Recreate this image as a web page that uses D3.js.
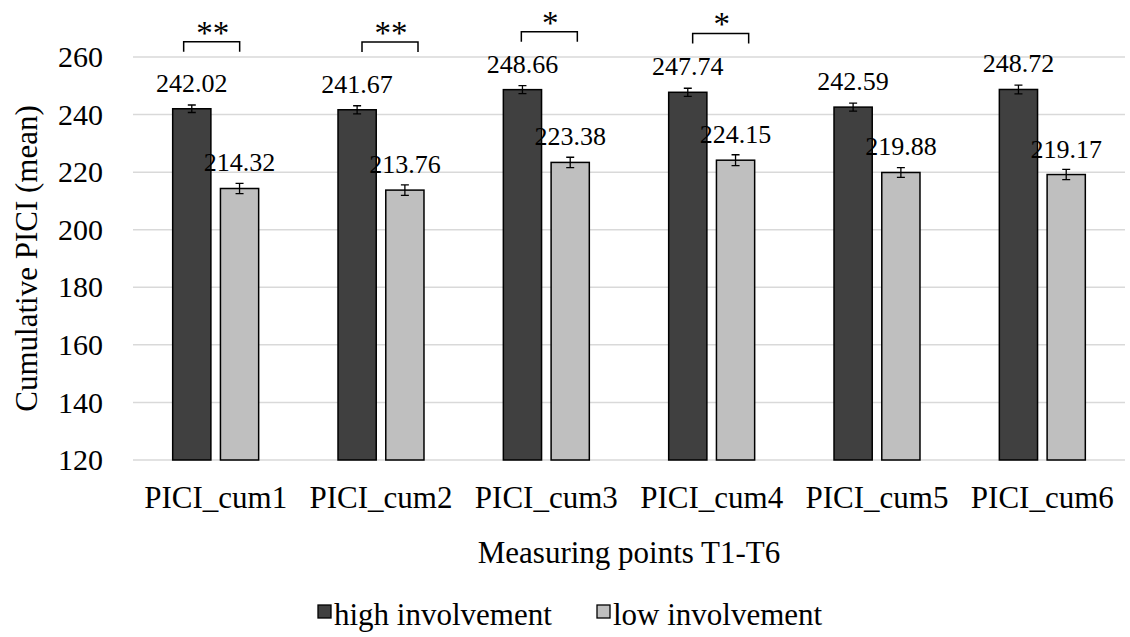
<!DOCTYPE html>
<html lang="en">
<head>
<meta charset="utf-8">
<title>Cumulative PICI</title>
<script src="https://cdn.jsdelivr.net/npm/d3@7"></script>
<style>
  body { margin: 0; background: #fff; }
  svg text { font-family: "Liberation Serif", "Times New Roman", serif; fill: #000; }
</style>
</head>
<body>
<svg width="1130" height="637"></svg>
<script>
// data
var categories = ["PICI_cum1", "PICI_cum2", "PICI_cum3", "PICI_cum4", "PICI_cum5", "PICI_cum6"];
var seriesNames = ["high involvement", "low involvement"];
var highValues = [242.02, 241.67, 248.66, 247.74, 242.59, 248.72];
var lowValues = [214.32, 213.76, 223.38, 224.15, 219.88, 219.17];
var highErr = [1.3, 1.4, 1.4, 1.4, 1.4, 1.5];
var lowErr = [1.8, 1.8, 1.8, 1.9, 1.7, 1.8];
var yTicks = [120, 140, 160, 180, 200, 220, 240, 260];

// significance brackets (level in data units, small hand shift in px)
var sigCats = ["PICI_cum1", "PICI_cum2", "PICI_cum3", "PICI_cum4"];
var sigLabels = ["**", "**", "*", "*"];
var sigLevels = [265.3, 265.2, 268.8, 268.2];
var sigShift = [-4, 9, 3, 9];

var colors = ["#404040", "#bfbfbf"];

var svg = d3.select("svg");
var m = { left: 133, right: 1125, top: 57, bottom: 460 };

var x0 = d3.scaleBand()
    .domain(categories)
    .range([m.left, m.right])
    .paddingInner(0.48)
    .paddingOuter(0.24);

var x1 = d3.scaleBand()
    .domain(seriesNames)
    .range([0, x0.bandwidth()])
    .paddingInner(0.2);

var y = d3.scaleLinear()
    .domain([120, 260])
    .range([m.bottom, m.top]);

// gridlines
svg.append("g")
    .selectAll("line")
    .data(yTicks)
    .enter()
    .append("line")
        .attr("x1", m.left)
        .attr("x2", m.right)
        .attr("y1", function (d) { return y(d) })
        .attr("y2", function (d) { return y(d) })
        .attr("stroke", "#d9d9d9")
        .attr("stroke-width", 1.5);

// y axis labels
var axisY = d3.axisLeft(y).tickValues(yTicks).tickSize(0).tickPadding(30);
var gy = svg.append("g")
    .attr("transform", "translate(" + m.left + ",0)")
    .call(axisY);
gy.select(".domain").remove();
gy.selectAll("text")
    .style("font-family", "'Liberation Serif', 'Times New Roman', serif")
    .attr("font-size", 30)
    .attr("fill", "#000");

// x axis labels
var axisX = d3.axisBottom(x0).tickSize(0).tickPadding(26);
var gx = svg.append("g")
    .attr("transform", "translate(0," + m.bottom + ")")
    .call(axisX);
gx.select(".domain").remove();
gx.selectAll("text")
    .style("font-family", "'Liberation Serif', 'Times New Roman', serif")
    .attr("font-size", 31)
    .attr("fill", "#000");

// rows for bars
var rows = [];
categories.forEach(function (c, i) {
    rows.push({ cat: c, series: seriesNames[0], value: highValues[i], err: highErr[i], k: 0 });
    rows.push({ cat: c, series: seriesNames[1], value: lowValues[i], err: lowErr[i], k: 1 });
});

var bars = svg.append("g")
    .selectAll("g.bar")
    .data(rows)
    .enter()
    .append("g")
        .classed("bar", true)
        .attr("transform", function (d) { return "translate(" + (x0(d.cat) + x1(d.series)) + ",0)" });

bars.append("rect")
    .attr("x", 0)
    .attr("y", function (d) { return y(d.value) })
    .attr("width", x1.bandwidth())
    .attr("height", function (d) { return y(120) - y(d.value) })
    .attr("fill", function (d) { return colors[d.k] })
    .attr("stroke", "#000")
    .attr("stroke-width", 1.5);

// error bars
var bw = x1.bandwidth();
bars.append("path")
    .attr("d", function (d) {
        var cx = bw / 2, t = y(d.value + d.err), b = y(d.value - d.err);
        return "M" + (cx - 4) + "," + t + "H" + (cx + 4) +
               "M" + cx + "," + t + "V" + b +
               "M" + (cx - 4) + "," + b + "H" + (cx + 4);
    })
    .attr("stroke", "#000")
    .attr("stroke-width", 1.3)
    .attr("fill", "none");

// value labels
bars.append("text")
    .attr("x", bw / 2)
    .attr("y", function (d) { return y(d.value) - 17 })
    .attr("text-anchor", "middle")
    .attr("font-size", 26)
    .text(function (d) { return d.value.toFixed(2) });

// brackets
var sig = sigCats.map(function (c, i) {
    return { cat: c, label: sigLabels[i], level: sigLevels[i], dx: sigShift[i] };
});
var sg = svg.append("g")
    .selectAll("g.sig")
    .data(sig)
    .enter()
    .append("g")
        .classed("sig", true)
        .attr("transform", function (d) { return "translate(" + (x0(d.cat) + x0.bandwidth() / 2 + d.dx) + "," + y(d.level) + ")" });

sg.append("path")
    .attr("d", "M-28,10V0H28V10")
    .attr("fill", "none")
    .attr("stroke", "#000")
    .attr("stroke-width", 1.5);

sg.append("text")
    .attr("x", 1)
    .attr("y", 2)
    .attr("text-anchor", "middle")
    .attr("font-size", 33)
    .text(function (d) { return d.label });

// axis titles
svg.append("text")
    .attr("transform", "translate(37," + ((m.top + m.bottom) / 2) + ") rotate(-90)")
    .attr("text-anchor", "middle")
    .attr("font-size", 31)
    .text("Cumulative PICI (mean)");

svg.append("text")
    .attr("x", (m.left + m.right) / 2)
    .attr("y", 563)
    .attr("text-anchor", "middle")
    .attr("font-size", 31)
    .text("Measuring points T1-T6");

// legend
var legX = [318, 597];
var leg = svg.append("g")
    .selectAll("g.leg")
    .data(seriesNames)
    .enter()
    .append("g")
        .classed("leg", true)
        .attr("transform", function (d, i) { return "translate(" + legX[i] + ",605)" });

leg.append("rect")
    .attr("width", 13)
    .attr("height", 13)
    .attr("fill", function (d, i) { return colors[i] })
    .attr("stroke", "#000")
    .attr("stroke-width", 1.3);

leg.append("text")
    .attr("x", 16)
    .attr("y", 20)
    .attr("font-size", 31)
    .text(function (d) { return d });
</script>
</body>
</html>
